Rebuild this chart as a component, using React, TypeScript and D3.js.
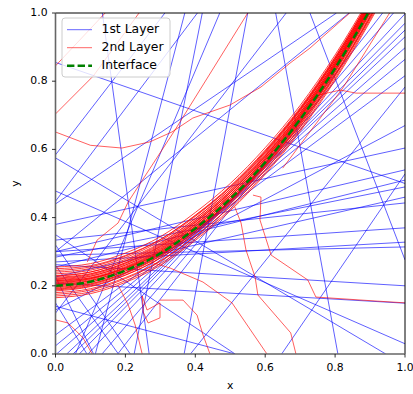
import React from "react";
import * as d3 from "d3";

// Axis ticks
const xTicks = [0, 0.2, 0.4, 0.6, 0.8, 1.0];
const yTicks = [0, 0.2, 0.4, 0.6, 0.8, 1.0];

// Interface curve samples
const interfaceX = [0, 0.1, 0.2, 0.3, 0.4, 0.5, 0.6, 0.7, 0.8, 0.9, 1.0];
const interfaceY = [0.2, 0.212, 0.245, 0.295, 0.368, 0.455, 0.562, 0.688, 0.838, 1.01, 1.2];

// 2nd layer curves hugging the interface: vertical offset at x=0 and at x=1
const bandOffsets: [number, number][] = [
  [-0.035, -0.035], [-0.03, -0.03], [-0.025, -0.02], [-0.02, -0.025], [-0.015, -0.01],
  [-0.012, -0.018], [-0.01, -0.005], [-0.008, 0.0], [-0.005, -0.012], [-0.003, 0.005],
  [0.0, -0.008], [0.002, 0.01], [0.004, -0.003], [0.006, 0.008], [0.008, 0.015],
  [0.01, 0.002], [0.012, 0.012], [0.015, 0.02], [0.018, 0.006], [0.02, 0.018],
  [0.022, 0.025], [0.025, 0.01], [0.028, 0.03], [0.03, 0.015], [0.035, 0.022],
  [0.04, 0.028], [0.045, 0.03], [0.05, 0.02], [0.055, 0.035], [0.015, -0.028],
];

// 1st layer: straight lines [x1, y1, x2, y2]
const blueLines: [number, number, number, number][] = [
  [0.134, 1, 0.268, 0],
  [0.313, 1, 0, 0.584],
  [0, 0.855, 1, 0.5],
  [0, 0.575, 0.945, 0],
  [0.406, 1, 0, 0.448],
  [0.37, 1, 0.114, 0],
  [0.42, 1, 0.225, 0],
  [0.55, 1, 0.368, 0],
  [0.63, 1, 0.808, 0],
  [0.728, 1, 1, 0.276],
  [0.647, 0, 1, 0.528],
  [0.386, 0, 1, 0.783],
  // lines running along the lower side of the interface
  [0, 0.056, 1, 0.816],
  [0, 0.024, 1, 0.864],
  [0.003, 0, 1, 0.898],
  [0.032, 0, 1, 0.93],
  [0.05, 0, 1, 0.95],
  [0.068, 0, 1, 0.97],
  [0.093, 0, 1, 0.9975],
  [0.133, 0, 0.967, 1],
  [0.178, 0, 0.936, 1],
  // upper middle
  [0, 0.44, 0.804, 1],
  [0, 0.3, 0.84, 1],
  [0, 0.12, 0.66, 1],
  [0, 0.129, 1, 0.67],
  [0.057, 0, 0.47, 1],
  // shallow lines across the middle
  [0, 0.38, 1, 0.604],
  [0, 0.3, 1, 0.54],
  [0, 0.255, 1, 0.51],
  [0, 0.284, 1, 0.49],
  [0, 0.226, 1, 0.46],
  [0, 0.334, 1, 0.443],
  [0, 0.3, 1, 0.37],
  [0, 0.27, 1, 0.328],
  [0, 0.29, 1, 0.314],
  [0, 0.262, 1, 0.2],
  [0, 0.208, 1, 0.149],
  // descending lines in the lower left
  [0, 0.35, 0.514, 0],
  [0, 0.14, 0.514, 0],
  [0, 0.226, 0.109, 0],
  [0, 0.32, 0.214, 0],
  [0, 0.15, 0.09, 0],
  [0, 0.26, 0.18, 0],
  [0, 0.478, 1, 0.03],
];

// 2nd layer: polylines away from the interface
const redPaths: [number, number][][] = [
  [[0, 0.845], [0.142, 1]],
  [[0, 0.704], [0.108, 0.815], [0.239, 1]],
  [[0, 0.651], [0.1, 0.612], [0.19, 0.604], [0.27, 0.622], [0.333, 0.651], [0.393, 0.692], [0.499, 0.73], [0.588, 0.783], [0.671, 0.853], [0.728, 0.897], [0.842, 1]],
  [[0.55, 1], [0.342, 0.657], [0.208, 0.446], [0.179, 0.384], [0.119, 0.334], [0.091, 0.27]],
  [[0.755, 0.76], [0.815, 0.774], [0.86, 0.765], [1, 0.765]],
  [[0.65, 0.545], [0.822, 0.78], [0.956, 1]],
  [[0.565, 0.466], [0.588, 0.46], [0.585, 0.393], [0.617, 0.29], [0.722, 0.217], [0.745, 0.167], [0.922, 0.155], [1, 0.15]],
  [[0.513, 0.431], [0.531, 0.384], [0.545, 0.305], [0.571, 0.226], [0.579, 0.173], [0.673, 0.062], [0.688, 0]],
  [[0.271, 0.27], [0.328, 0.252], [0.422, 0.211], [0.505, 0.15], [0.605, 0]],
  [[0.299, 0.158], [0.365, 0.158], [0.405, 0.114], [0.422, 0.056], [0.442, 0]],
  [[0, 0.1], [0.036, 0.091], [0.079, 0.047], [0.105, 0]],
  [[0.179, 0.202], [0.208, 0.144], [0.228, 0.085], [0.248, 0]],
  [[0.248, 0.17], [0.262, 0.129], [0.299, 0.15], [0.299, 0.106], [0.265, 0.091], [0.251, 0.123], [0.248, 0.17]],
];

const legendItems = [
  { label: "1st Layer", color: "blue", dash: "", width: 1, opacity: 0.6 },
  { label: "2nd Layer", color: "red", dash: "", width: 1, opacity: 0.6 },
  { label: "Interface", color: "green", dash: "7.4,3.2", width: 2.5, opacity: 1 },
];

const FONT = "DejaVu Sans, sans-serif";

export default function App() {
  const W = 413;
  const H = 394;
  const x = d3.scaleLinear().domain([0, 1]).range([55.5, 405]);
  const y = d3.scaleLinear().domain([0, 1]).range([354, 13]);

  const poly = d3
    .line<[number, number]>()
    .x((d) => x(d[0]))
    .y((d) => y(d[1]));
  const smooth = d3
    .line<[number, number]>()
    .x((d) => x(d[0]))
    .y((d) => y(d[1]))
    .curve(d3.curveMonotoneX);

  const ifPts: [number, number][] = interfaceX.map((v, i) => [v, interfaceY[i]]);
  const bandPaths = bandOffsets.map(([a, b]) =>
    smooth(interfaceX.map((v, i) => [v, interfaceY[i] + a + (b - a) * v] as [number, number]))
  );

  const [x0, x1] = x.range();
  const [y0, y1] = y.range();

  return (
    <svg
      width={W}
      height={H}
      style={{ position: "absolute", left: 0, top: 0, background: "white" }}
      fontFamily={FONT}
    >
      <defs>
        <clipPath id="plot">
          <rect x={x0} y={y1} width={x1 - x0} height={y0 - y1} />
        </clipPath>
      </defs>
      <rect x={0} y={0} width={W} height={H} fill="white" />
      <g clipPath="url(#plot)">
        {blueLines.map((l, i) => (
          <line
            key={"b" + i}
            x1={x(l[0])}
            y1={y(l[1])}
            x2={x(l[2])}
            y2={y(l[3])}
            stroke="blue"
            strokeOpacity={0.7}
            strokeWidth={0.9}
          />
        ))}
        {redPaths.map((p, i) => (
          <path key={"r" + i} d={poly(p) || ""} fill="none" stroke="red" strokeOpacity={0.7} strokeWidth={0.9} />
        ))}
        {bandPaths.map((d, i) => (
          <path key={"rb" + i} d={d || ""} fill="none" stroke="red" strokeOpacity={0.75} strokeWidth={1} />
        ))}
        <path d={smooth(ifPts) || ""} fill="none" stroke="green" strokeWidth={2.5} strokeDasharray="7.4,3.2" />
      </g>
      {/* spines */}
      <line x1={x0} y1={y1} x2={x1} y2={y1} stroke="black" strokeWidth={1} />
      <line x1={x1} y1={y1} x2={x1} y2={y0} stroke="black" strokeWidth={1} />
      <line x1={x0} y1={y0} x2={x1} y2={y0} stroke="#666" strokeWidth={1.6} />
      <line x1={x0} y1={y1} x2={x0} y2={y0} stroke="#666" strokeWidth={1.6} />
      {/* x ticks */}
      {xTicks.map((t) => (
        <g key={"xt" + t}>
          <line x1={x(t)} y1={y0} x2={x(t)} y2={y0 + 3.5} stroke="black" strokeWidth={0.8} />
          <text x={x(t)} y={y0 + 14} fontSize={10.8} textAnchor="middle" dominantBaseline="middle" fill="black">
            {t.toFixed(1)}
          </text>
        </g>
      ))}
      {/* y ticks */}
      {yTicks.map((t) => (
        <g key={"yt" + t}>
          <line x1={x0 - 3.5} y1={y(t)} x2={x0} y2={y(t)} stroke="black" strokeWidth={0.8} />
          <text x={x0 - 8} y={y(t)} fontSize={10.8} textAnchor="end" dominantBaseline="middle" fill="black">
            {t.toFixed(1)}
          </text>
        </g>
      ))}
      <text x={(x0 + x1) / 2} y={386} fontSize={10.8} textAnchor="middle" dominantBaseline="middle">
        x
      </text>
      <text
        x={16}
        y={(y0 + y1) / 2}
        fontSize={10.8}
        textAnchor="middle"
        dominantBaseline="middle"
        transform={`rotate(-90, 16, ${(y0 + y1) / 2})`}
      >
        y
      </text>
      {/* legend */}
      <g>
        <rect x={62} y={18} width={108} height={59} rx={3} fill="white" fillOpacity={0.8} stroke="#cccccc" strokeWidth={1} />
        {legendItems.map((it, i) => {
          const ly = 29.7 + i * 18;
          return (
            <g key={it.label}>
              <line
                x1={67}
                y1={ly}
                x2={92}
                y2={ly}
                stroke={it.color}
                strokeOpacity={it.opacity}
                strokeWidth={it.width}
                strokeDasharray={it.dash || undefined}
              />
              <text x={101.5} y={ly} fontSize={12.4} dominantBaseline="middle" fill="black">
                {it.label}
              </text>
            </g>
          );
        })}
      </g>
    </svg>
  );
}
